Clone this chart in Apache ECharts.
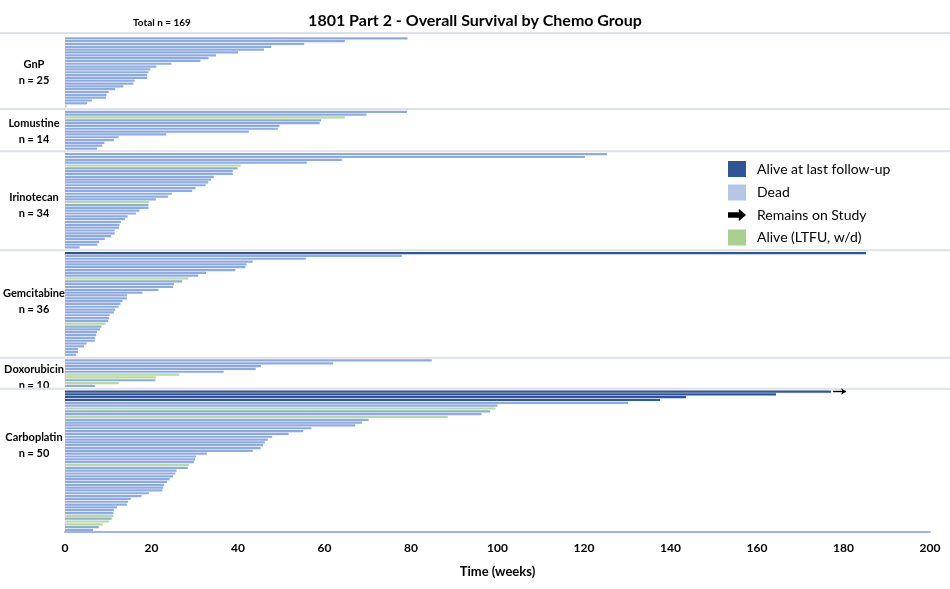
<!DOCTYPE html>
<html><head><meta charset="utf-8">
<script src="https://cdn.jsdelivr.net/npm/echarts@6/dist/echarts.min.js"></script>
<style>html,body{margin:0;padding:0;background:#fff}#c{width:950px;height:589px}</style>
</head><body><div id="c"></div>
<script>
// ---------- DATA ----------
const groupNames = ['GnP', 'Lomustine', 'Irinotecan', 'Gemcitabine', 'Doxorubicin', 'Carboplatin'];
const groupNLabels = ['n = 25', 'n = 14', 'n = 34', 'n = 36', 'n = 10', 'n = 50'];
// weeks on study, per patient, top to bottom
const gnpWeeks = [79.2, 64.7, 55.3, 47.7, 46.0, 40.0, 34.9, 33.2, 31.3, 24.6, 21.1, 19.7, 19.3, 19.0, 19.0, 16.1, 15.8, 13.5, 11.6, 10.1, 9.6, 9.5, 6.2, 5.1, 0.4];
const lomustineWeeks = [79.1, 69.7, 64.7, 59.2, 58.9, 49.6, 49.2, 42.5, 23.4, 12.4, 11.3, 9.1, 8.6, 7.4];
const irinotecanWeeks = [125.3, 120.2, 64.0, 55.9, 40.6, 39.9, 38.8, 38.8, 34.4, 33.8, 33.1, 32.5, 30.2, 29.4, 24.7, 23.8, 21.0, 19.4, 19.3, 19.3, 17.2, 16.4, 14.5, 13.9, 12.9, 12.6, 12.5, 11.5, 11.5, 10.7, 9.2, 7.9, 7.5, 3.4];
const gemcitabineWeeks = [185.2, 77.9, 55.7, 43.4, 42.0, 41.7, 39.4, 32.6, 30.8, 28.5, 27.1, 25.2, 25.0, 21.6, 17.9, 14.3, 14.3, 13.3, 12.8, 12.4, 11.6, 11.3, 10.3, 10.2, 10.0, 9.4, 8.4, 8.1, 7.4, 7.2, 6.9, 6.9, 5.0, 4.4, 3.0, 3.0, 2.5];
const doxorubicinWeeks = [84.8, 62.0, 45.3, 44.1, 36.7, 26.4, 21.0, 20.9, 12.4, 6.9];
const carboplatinWeeks = [177.1, 164.4, 143.6, 137.6, 130.2, 100.0, 99.5, 98.3, 96.3, 88.5, 70.2, 68.7, 67.1, 57.0, 55.1, 51.7, 47.9, 46.9, 46.2, 45.8, 45.2, 43.4, 32.8, 30.3, 30.1, 29.8, 28.7, 28.4, 25.8, 25.5, 25.0, 24.2, 23.6, 22.9, 22.7, 22.5, 19.4, 17.7, 15.2, 14.6, 14.3, 12.0, 11.3, 11.2, 11.2, 10.8, 10.2, 8.7, 7.8, 6.5];
// status: A = alive at last follow-up, D = dead, L = alive (LTFU, w/d)
const gnpStatus = 'DDDDDDDDDDDDDDDDDDDDDDDDL';
const lomustineStatus = 'DDLDDDDDDDDDDD';
const irinotecanStatus = 'DDDDLDDDDDDDDDDDDLDDDDDDDDDDDDDDDD';
const gemcitabineStatus = 'ADDDDDDDDLDDDDDDDDDDDDDDDLDDDDDDDDDDD';
const doxorubicinStatus = 'DDDDDLLDLD';
const carboplatinStatus = 'AAAADDLDDLDDDDDDDDDDDDDDDDLDDDDDDDDDDDDDDDDDLDLLDD';
// remains on study arrow (weeks)
const remainsOnStudy = [{ group: 'Carboplatin', row: 1, from: 177.6, to: 180.6 }];
const xMin = 0, xMax = 200, xStep = 20;
const seriesNames = { A: 'Alive at last follow-up', D: 'Dead', L: 'Alive (LTFU, w/d)' };
const arrowName = 'Remains on Study';

// ---------- LAYOUT / STYLE ----------
const labelRow = [13, 8, 19, 18, 7, 20]; // which bar row carries the group label
const colors = { A: '#2f5597', D: '#8fabde', L: '#b5da9c' };
const legendColors = { A: '#2f5597', D: '#b4c7e7', L: '#a9d18e' };
const FONT = 'Lato';

const groupsWeeks = [gnpWeeks, lomustineWeeks, irinotecanWeeks, gemcitabineWeeks, doxorubicinWeeks, carboplatinWeeks];
const groupsStatus = [gnpStatus, lomustineStatus, irinotecanStatus, gemcitabineStatus, doxorubicinStatus, carboplatinStatus];

const cats = [];
const gapIds = [];
const seriesData = { A: [], D: [], L: [] };
const labelMap = {};
groupNames.forEach((g, gi) => {
  const gid = 'gap' + gi;
  gapIds.push(gid);
  cats.push(gid);
  ['A', 'D', 'L'].forEach(k => seriesData[k].push('-'));
  const st = groupsStatus[gi].split('');
  groupsWeeks[gi].forEach((v, i) => {
    const id = g + '_' + (i + 1);
    cats.push(id);
    ['A', 'D', 'L'].forEach(k => seriesData[k].push(st[i] === k ? v : '-'));
  });
  labelMap[g + '_' + labelRow[gi]] = '{b|' + g + '}\n{b|' + groupNLabels[gi] + '}';
});

const chart = echarts.init(document.getElementById('c'), null, { renderer: 'canvas' });

const barSeries = ['A', 'D', 'L'].map(k => ({
  name: seriesNames[k],
  type: 'bar',
  data: seriesData[k],
  barWidth: 2.2,
  barGap: '-100%',
  itemStyle: { color: colors[k] },
  silent: true,
  z: 3
}));
barSeries[0].markLine = {
  silent: true,
  symbol: ['none', 'arrow'],
  symbolSize: [5, 5],
  label: { show: false },
  lineStyle: { color: '#000', width: 1.4, type: 'solid' },
  data: remainsOnStudy.map(r => [{ coord: [r.from, r.group + '_' + r.row] }, { coord: [r.to, r.group + '_' + r.row] }])
};

const option = {
  animation: false,
  backgroundColor: '#fff',
  title: [
    { text: '1801 Part 2 - Overall Survival by Chemo Group', left: 'center', top: 8,
      textStyle: { fontFamily: FONT, fontWeight: 'bold', fontSize: 16, color: '#000' } },
    { text: 'Total n = 169', left: 128, top: 13,
      textStyle: { fontFamily: FONT, fontWeight: 'bold', fontSize: 10, color: '#000' } }
  ],
  legend: {
    orient: 'vertical', left: 723, top: 156, itemWidth: 18, itemHeight: 16, itemGap: 7.5,
    selectedMode: false,
    textStyle: { fontFamily: FONT, fontSize: 14, color: '#000', padding: [0, 0, 0, 6] },
    data: [
      { name: seriesNames.A, icon: 'rect', itemStyle: { color: legendColors.A } },
      { name: seriesNames.D, icon: 'rect', itemStyle: { color: legendColors.D } },
      { name: arrowName, icon: 'path://M0,5L12,5L12,1L20,8L12,15L12,11L0,11Z', itemStyle: { color: '#000' } },
      { name: seriesNames.L, icon: 'rect', itemStyle: { color: legendColors.L } }
    ]
  },
  grid: { left: 65, right: 20, top: 34.1, bottom: 57.6, containLabel: false },
  xAxis: {
    type: 'value', min: xMin, max: xMax, interval: xStep,
    splitLine: { show: false },
    axisTick: { show: false },
    axisLine: { show: true, lineStyle: { color: '#9db5e5', width: 2 } },
    axisLabel: { fontFamily: FONT, fontWeight: 'bold', fontSize: 12, color: '#000', margin: 11 },
    name: 'Time (weeks)', nameLocation: 'middle', nameGap: 34,
    nameTextStyle: { fontFamily: FONT, fontWeight: 'bold', fontSize: 13, color: '#000' }
  },
  yAxis: {
    type: 'category', inverse: true, data: cats,
    axisLine: { show: false }, axisTick: { show: false }, splitLine: { show: false },
    axisLabel: {
      interval: 0, align: 'center', margin: 31,
      formatter: v => labelMap[v] || '',
      rich: { b: { fontFamily: FONT, fontWeight: 'bold', fontSize: 11, color: '#000', lineHeight: 16, align: 'center' } }
    }
  },
  series: barSeries.concat([{ name: arrowName, type: 'line', data: [], itemStyle: { color: '#000' }, symbolKeepAspect: true }])
};
chart.setOption(option);

const graphics = gapIds.map((id, i) => {
  let y = chart.convertToPixel({ yAxisIndex: 0 }, id);
  if (i === 0) y -= 2.5;
  return { type: 'line', silent: true, z: 1,
    shape: { x1: 0, y1: y, x2: 950, y2: y },
    style: { stroke: '#dde2ea', lineWidth: 2 } };
});
chart.setOption({ graphic: graphics });
</script>
</body></html>
